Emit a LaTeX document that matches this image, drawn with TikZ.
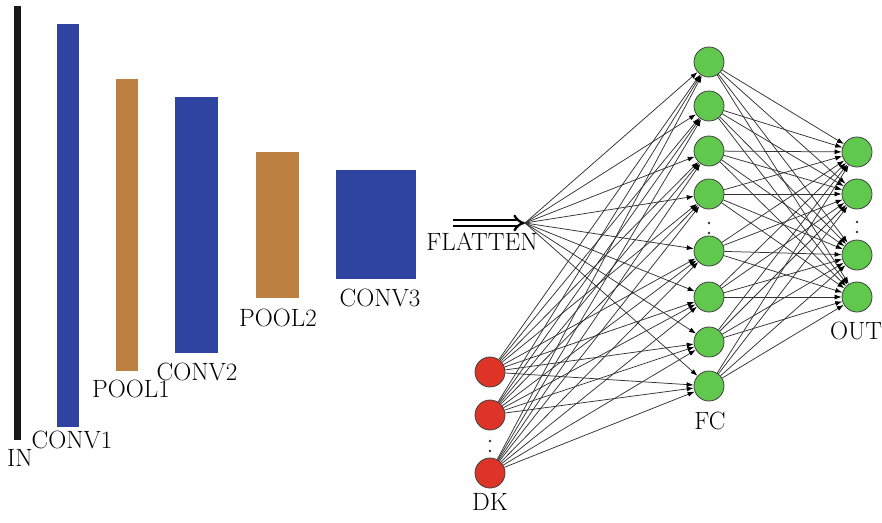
\documentclass[tikz,border=0pt]{standalone}
\usetikzlibrary{arrows.meta}
\definecolor{convblue}{RGB}{46,68,160}
\definecolor{poolbrown}{RGB}{188,128,64}
\definecolor{fcgreen}{RGB}{96,200,76}
\definecolor{dkred}{RGB}{222,52,40}
\begin{document}
\begin{tikzpicture}[x=1pt,y=-1pt,
  bar/.style={inner sep=0pt, outer sep=0pt, draw=none},
  lbl/.style={inner sep=0pt, font=\fontsize{25}{28}\selectfont},
  neuron/.style={circle, draw=black!75, line width=0.8pt, minimum size=30pt, inner sep=0pt},
  dotnode/.style={circle, fill=black!80, inner sep=0pt, minimum size=2.6pt},
  conn/.style={draw=black!80, line width=0.75pt, -{Latex[length=7pt,width=5pt,color=black]}}]
\useasboundingbox[fill=white] (0,0) rectangle (882,522);
% bars
\node[bar, fill=black!90, minimum width=7pt, minimum height=434pt] (in) at (17.5,223) {};
\node[bar, fill=convblue, minimum width=22pt, minimum height=403pt] (c1) at (68,225.5) {};
\node[bar, fill=poolbrown, minimum width=22pt, minimum height=292pt] (p1) at (127,225) {};
\node[bar, fill=convblue, minimum width=43pt, minimum height=256pt] (c2) at (196.5,225) {};
\node[bar, fill=poolbrown, minimum width=43pt, minimum height=146pt] (p2) at (277.5,225) {};
\node[bar, fill=convblue, minimum width=80pt, minimum height=109pt] (c3) at (376,224.5) {};
% labels
\node[lbl] (lin) at (20,458) {IN};
\node[lbl] (lc1) at (72,440) {CONV1};
\node[lbl] (lp1) at (131,389) {POOL1};
\node[lbl] (lc2) at (197,372) {CONV2};
\node[lbl] (lp2) at (278,318) {POOL2};
\node[lbl] (lc3) at (380,297.5) {CONV3};
\node[lbl] (lfl) at (482,242) {FLATTEN};
\node[lbl] (lfc) at (710,421) {FC};
\node[lbl] (lout) at (856,331) {OUT};
\node[lbl] (ldk) at (490,502) {DK};
% flatten arrow
\coordinate (fs) at (453,223);
\coordinate (fan) at (525,223);
\draw[double, double distance=3.2pt, line width=2.3pt, -{Implies[length=8pt]}] (fs) -- (fan);
% FC nodes
\foreach \i/\y in {1/62,2/106,3/151,4/194,5/251,6/297,7/342,8/386}
  \node[neuron, fill=fcgreen] (f\i) at (709,\y) {};
\node[dotnode] (fd1) at (709,223) {};
\node[dotnode] (fd2) at (709,233) {};
% OUT nodes
\foreach \i/\y in {1/152,2/194,3/255,4/297}
  \node[neuron, fill=fcgreen] (o\i) at (857,\y) {};
\node[dotnode] (od1) at (857,222) {};
\node[dotnode] (od2) at (857,232) {};
% DK nodes
\foreach \i/\y in {1/372,2/415,3/473}
  \node[neuron, fill=dkred] (d\i) at (490,\y) {};
\node[dotnode] (dd1) at (490,441) {};
\node[dotnode] (dd2) at (490,451) {};
% connections
\foreach \i in {1,...,8} {
  \draw[conn] (fan) -- (f\i);
  \foreach \j in {1,2,3} \draw[conn] (d\j) -- (f\i);
  \foreach \k in {1,...,4} \draw[conn] (f\i) -- (o\k);
}
\end{tikzpicture}
\end{document}
